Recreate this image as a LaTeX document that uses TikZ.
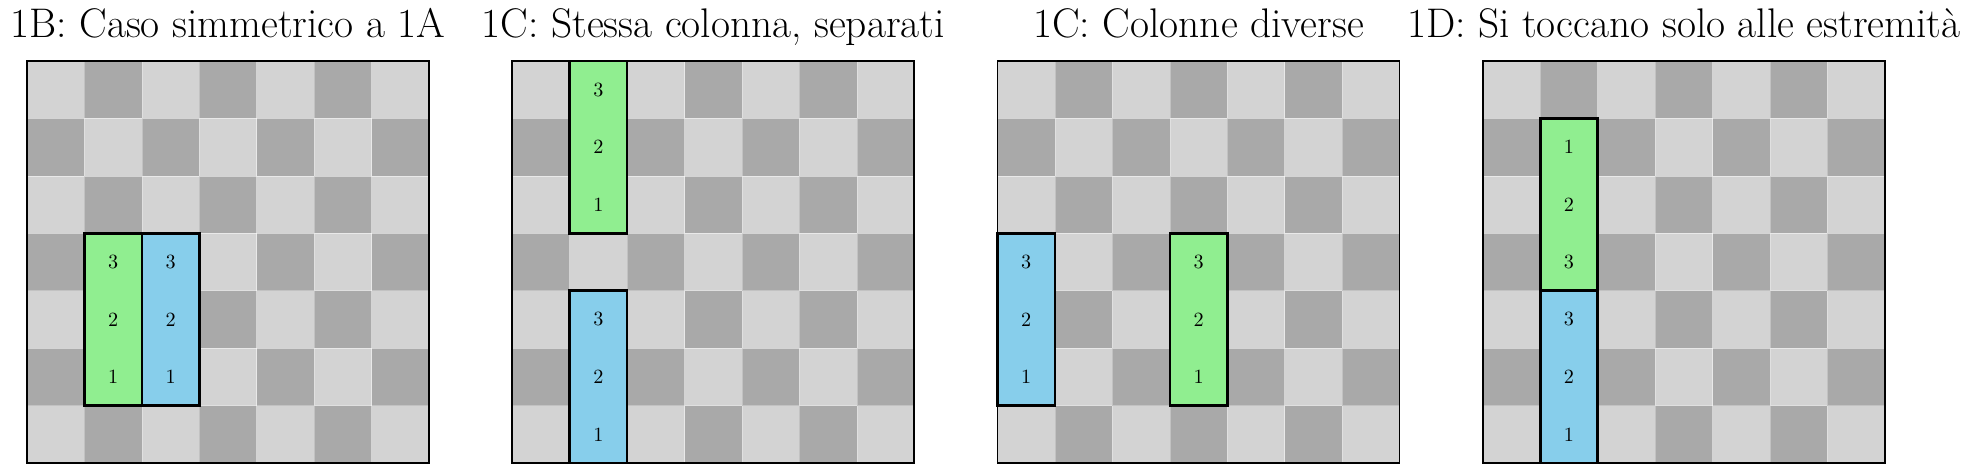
\documentclass[tikz,border=0pt]{standalone}
\usepackage{tikz}
\usetikzlibrary{positioning}
\definecolor{CellLight}{HTML}{D3D3D3}
\definecolor{CellDark}{HTML}{A9A9A9}
\definecolor{PieceGreen}{HTML}{90EE90}
\definecolor{PieceBlue}{HTML}{87CEEB}

\begin{document}
\begin{tikzpicture}[
    cella/.style={draw=white, draw opacity=0.3, line width=0.35pt},
    bordo/.style={draw=black, line width=0.9pt},
    pezzo/.style={draw=black, line width=1.3pt},
    numero/.style={font=\normalsize, inner sep=0pt},
    titolo/.style={anchor=base, font=\fontsize{20.5}{24}\selectfont}]
    \useasboundingbox (0,0) rectangle (34.32,8.254);

    % scacchiere 7x7 con titolo
    \foreach \b/\testo in {0/{1B: Caso simmetrico a 1A}, 1/{1C: Stessa colonna, separati}, 2/{1C: Colonne diverse}, 3/{1D: Si toccano solo alle estremità}} {
        \begin{scope}[shift={(0.470+8.45*\b, 0.1915)}]
            \foreach \i in {0,...,6}
                \foreach \j in {0,...,6} {
                    \pgfmathtruncatemacro{\parita}{mod(\i+\j,2)}
                    \ifnum\parita=0 \def\tinta{CellLight}\else\def\tinta{CellDark}\fi
                    \draw[cella, fill=\tinta] (\i,\j) rectangle ++(1,1);
                }
            \draw[bordo] (0,0) rectangle (7,7);
            \node[titolo] (titolo\b) at (3.5,7.41) {\testo};
        \end{scope}
    }

    % 1B: affiancati
    \begin{scope}[shift={(0.470,0.1915)}]
        \draw[pezzo, fill=PieceGreen] (1,1) rectangle (2,4);
        \draw[pezzo, fill=PieceBlue] (2,1) rectangle (3,4);
        \foreach \k in {1,2,3} {
            \node[numero] (verdeA\k) at (1.5,\k+0.5) {\k};
            \node[numero] (bluA\k) at (2.5,\k+0.5) {\k};
        }
    \end{scope}

    % 1C: stessa colonna
    \begin{scope}[shift={(0.470+8.45,0.1915)}]
        \draw[pezzo, fill=PieceGreen] (1,4) rectangle (2,7);
        \draw[pezzo, fill=PieceBlue] (1,0) rectangle (2,3);
        \foreach \k in {1,2,3} {
            \node[numero] (verdeB\k) at (1.5,3.5+\k) {\k};
            \node[numero] (bluB\k) at (1.5,\k-0.5) {\k};
        }
    \end{scope}

    % 1C: colonne diverse
    \begin{scope}[shift={(0.470+2*8.45,0.1915)}]
        \draw[pezzo, fill=PieceBlue] (0,1) rectangle (1,4);
        \draw[pezzo, fill=PieceGreen] (3,1) rectangle (4,4);
        \foreach \k in {1,2,3} {
            \node[numero] (bluC\k) at (0.5,\k+0.5) {\k};
            \node[numero] (verdeC\k) at (3.5,\k+0.5) {\k};
        }
    \end{scope}

    % 1D: estremita a contatto
    \begin{scope}[shift={(0.470+3*8.45,0.1915)}]
        \draw[pezzo, fill=PieceGreen] (1,3) rectangle (2,6);
        \draw[pezzo, fill=PieceBlue] (1,0) rectangle (2,3);
        \foreach \k in {1,2,3} {
            \node[numero] (verdeD\k) at (1.5,6.5-\k) {\k};
            \node[numero] (bluD\k) at (1.5,\k-0.5) {\k};
        }
    \end{scope}
\end{tikzpicture}
\end{document}
